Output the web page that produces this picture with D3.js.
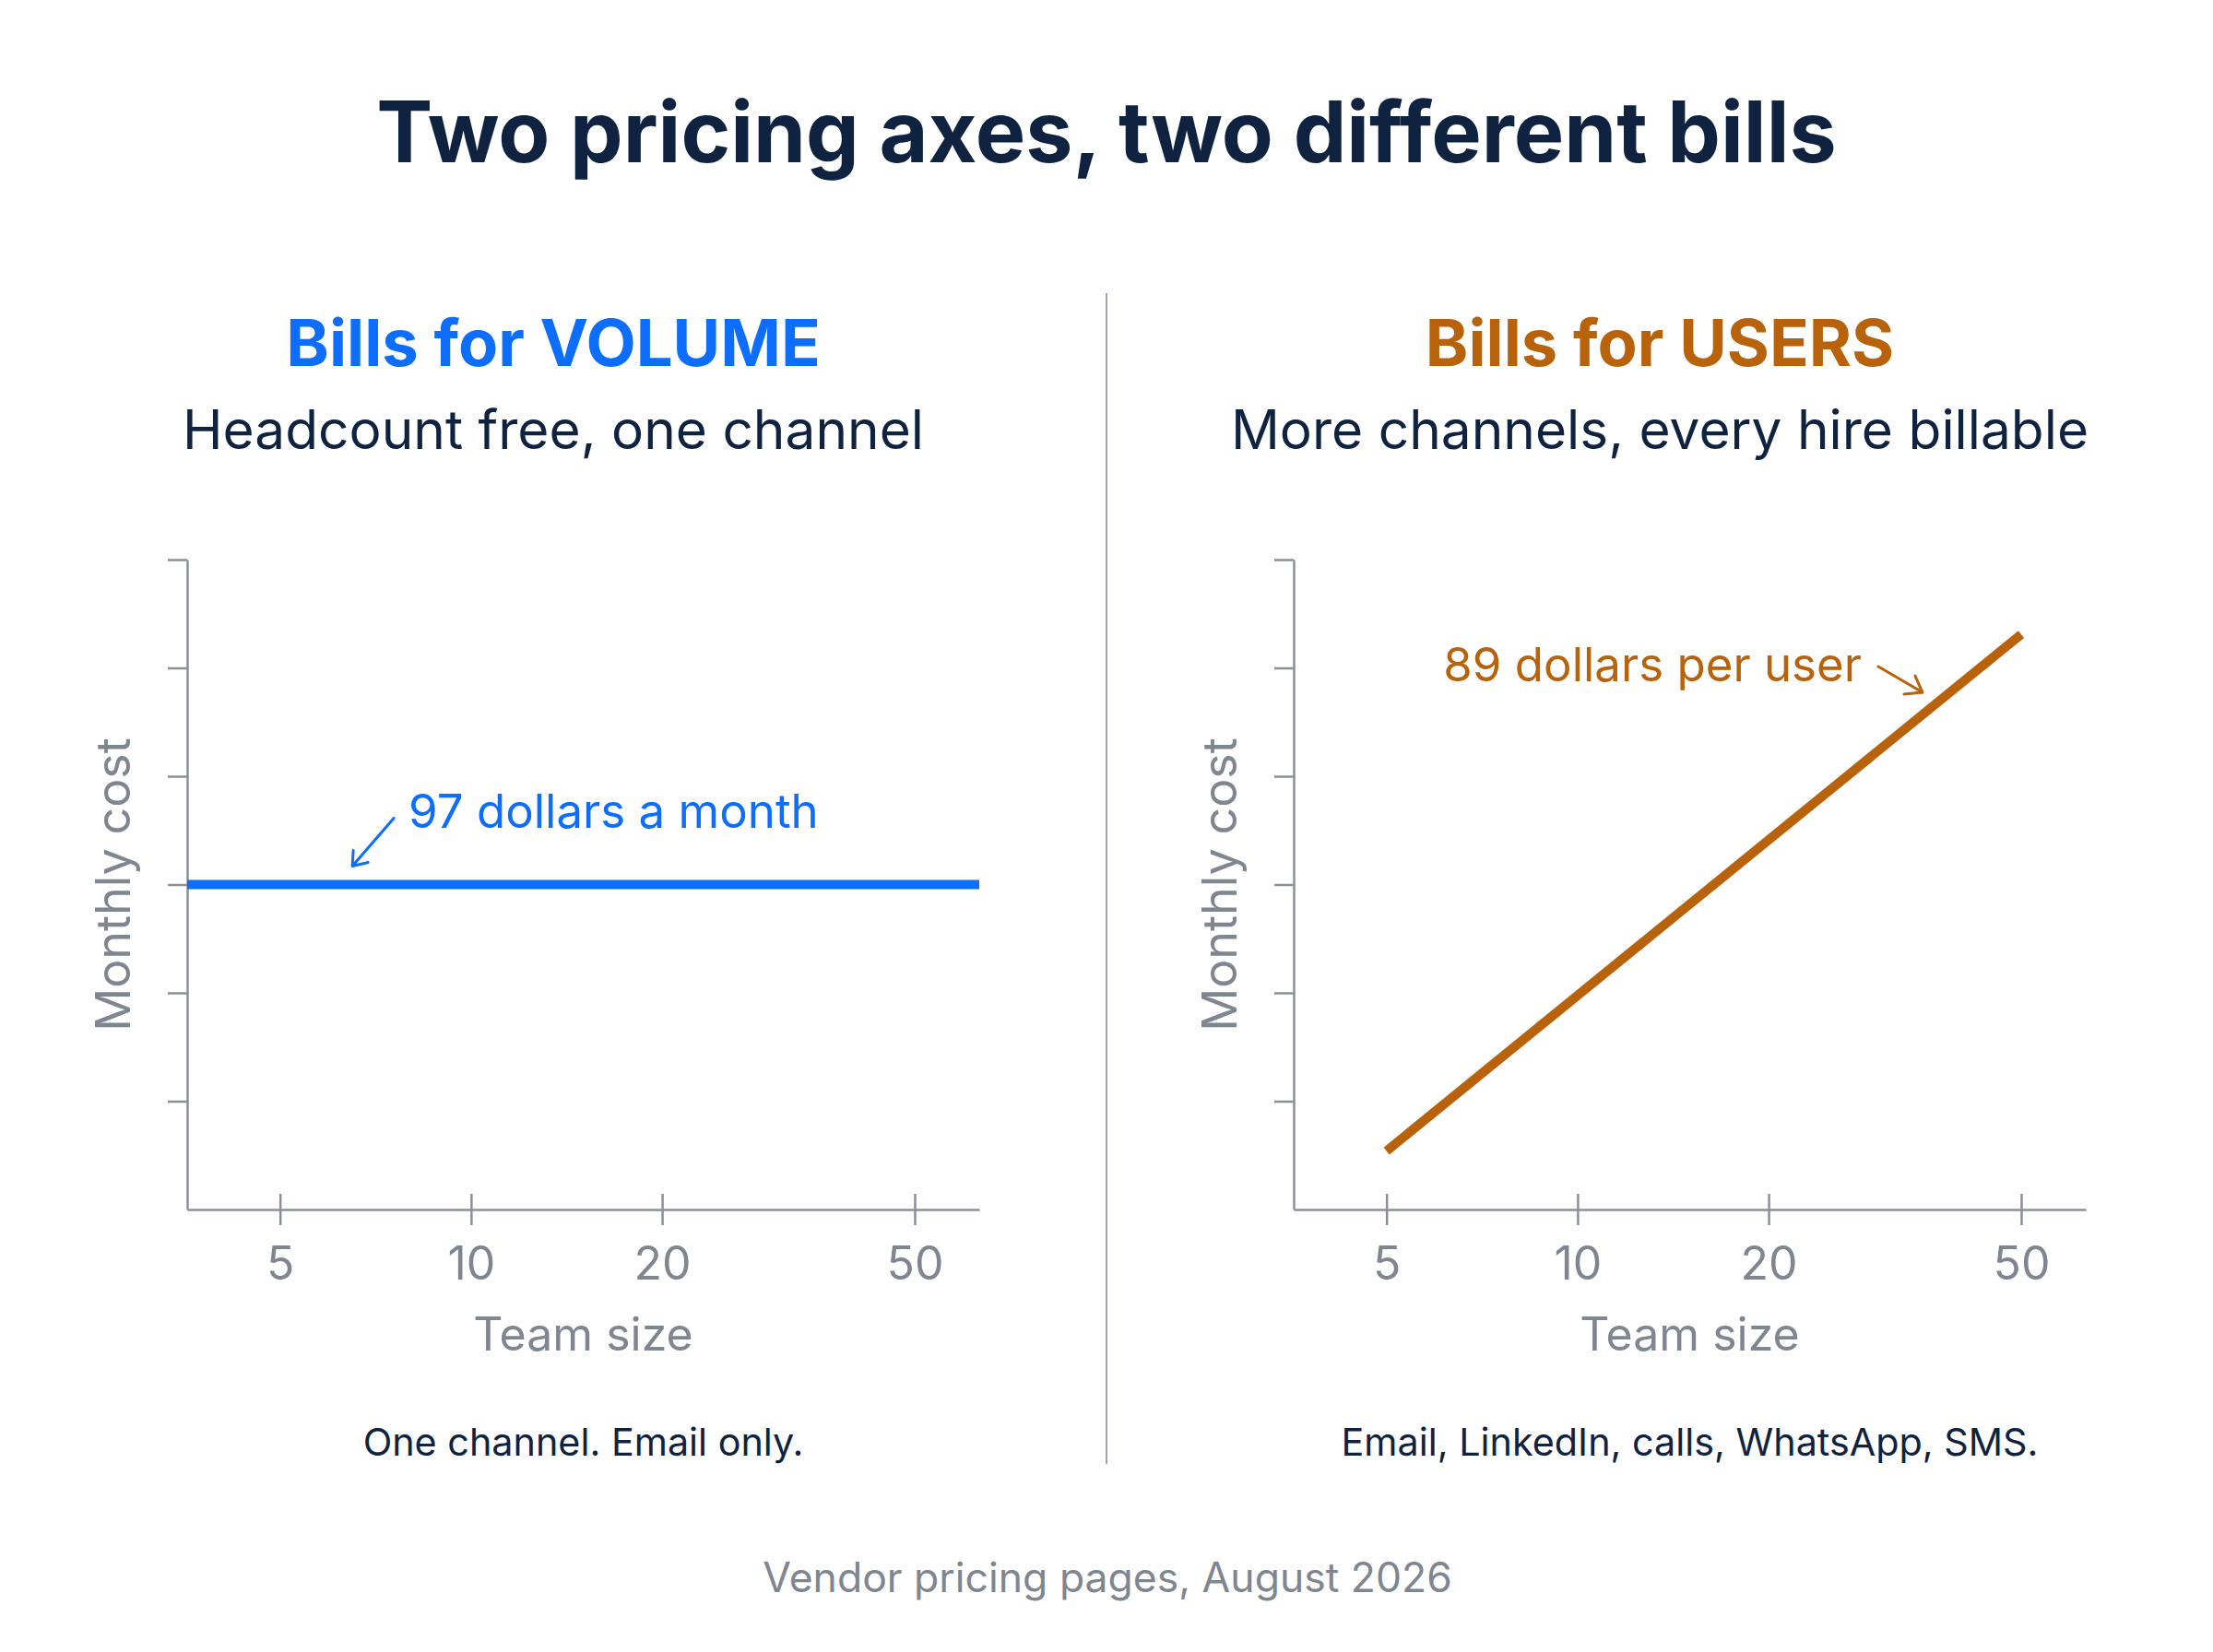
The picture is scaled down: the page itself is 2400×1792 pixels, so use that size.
<!DOCTYPE html>
<html>
<head>
<meta charset="utf-8">
<script src="https://cdn.jsdelivr.net/npm/d3@7"></script>
<style>
  html, body { margin: 0; padding: 0; background: #fff; }
  svg { display: block; font-family: Inter, "Noto Sans", sans-serif; }
</style>
</head>
<body>
<svg id="chart" width="2400" height="1792" viewBox="0 0 2400 1792"></svg>
<script>
// team size axis (log) and abstract monthly cost axis
var teamTicks = [5, 10, 20, 50];
var teamExtent = [3.57, 63.2];
var costTicks = [1, 2, 3, 4, 5, 6];
var costExtent = [0, 6];

// volume plan: flat fee across every team size
var volumeTeam = [3.57, 63.2];
var volumeCost = [3, 3];

// per-seat plan: grows with every hire
var usersTeam = [5, 50];
var usersCost = [0.54, 5.31];

var titleText = 'Two pricing axes, two different bills';
var sourceText = 'Vendor pricing pages, August 2026';

var navy = '#0f2340';
var grey = '#7f868f';
var axisGrey = '#8b9098';

var panels = [
  {
    offset: 0,
    color: '#0d6efd',
    title: 'Bills for VOLUME',
    subtitle: 'Headcount free, one channel',
    note: 'One channel. Email only.',
    label: '97 dollars a month',
    team: volumeTeam,
    cost: volumeCost
  },
  {
    offset: 1200,
    color: '#b8620b',
    title: 'Bills for USERS',
    subtitle: 'More channels, every hire billable',
    note: 'Email, LinkedIn, calls, WhatsApp, SMS.',
    label: '89 dollars per user',
    team: usersTeam,
    cost: usersCost
  }
];

var svg = d3.select('#chart');
svg.append('rect').attr('width', 2400).attr('height', 1792).attr('fill', '#fff');

svg.append('text')
  .attr('x', 1200).attr('y', 176)
  .attr('text-anchor', 'middle')
  .attr('font-size', 91.5).attr('font-weight', 700)
  .attr('fill', navy)
  .text(titleText);

svg.append('line')
  .attr('x1', 1200).attr('x2', 1200)
  .attr('y1', 318).attr('y2', 1588)
  .attr('stroke', '#a0a4aa').attr('stroke-width', 2);

svg.append('text')
  .attr('x', 1201).attr('y', 1727)
  .attr('text-anchor', 'middle')
  .attr('font-size', 44.5)
  .attr('fill', grey)
  .text(sourceText);

var plot = { left: 203, right: 1062, top: 607, bottom: 1312 };

var x = d3.scaleLog().domain(teamExtent).range([plot.left, plot.right]);
var y = d3.scaleLinear().domain(costExtent).range([plot.bottom, plot.top]);

var line = d3.line()
  .x(function (d) { return x(d[0]); })
  .y(function (d) { return y(d[1]); });

panels.forEach(function (p, i) {
  var g = svg.append('g').attr('transform', 'translate(' + p.offset + ',0)');
  var mid = (plot.left + plot.right) / 2;

  g.append('text')
    .attr('x', 600).attr('y', 397)
    .attr('text-anchor', 'middle')
    .attr('font-size', 70.5).attr('font-weight', 700)
    .attr('fill', p.color)
    .text(p.title);

  g.append('text')
    .attr('x', 600).attr('y', 487)
    .attr('text-anchor', 'middle')
    .attr('font-size', 58.6)
    .attr('fill', navy)
    .text(p.subtitle);

  // y axis: ticks only, no labels
  var yAxis = g.append('g')
    .attr('transform', 'translate(' + plot.left + ',0)')
    .call(d3.axisLeft(y).tickValues(costTicks).tickSize(21).tickSizeOuter(0).tickFormat(''));

  // x axis: ticks cross the baseline
  var xAxis = g.append('g')
    .attr('transform', 'translate(0,' + plot.bottom + ')')
    .call(d3.axisBottom(x).tickValues(teamTicks).tickSize(17).tickSizeOuter(0).tickFormat(d3.format('d')));
  xAxis.selectAll('.tick line').attr('y1', -17);
  xAxis.selectAll('.tick text')
    .attr('y', 76).attr('dy', 0)
    .attr('font-size', 50)
    .attr('font-family', 'Inter, sans-serif')
    .attr('fill', grey);

  [yAxis, xAxis].forEach(function (ax) {
    ax.select('.domain').attr('stroke', axisGrey).attr('stroke-width', 2.5);
    ax.selectAll('.tick line').attr('stroke', axisGrey).attr('stroke-width', 2.5);
  });

  g.append('text')
    .attr('transform', 'translate(141,' + (plot.top + plot.bottom) / 2 + ') rotate(-90)')
    .attr('text-anchor', 'middle')
    .attr('font-size', 52)
    .attr('fill', grey)
    .text('Monthly cost');

  g.append('text')
    .attr('x', mid).attr('y', 1465)
    .attr('text-anchor', 'middle')
    .attr('font-size', 50)
    .attr('fill', grey)
    .text('Team size');

  g.append('text')
    .attr('x', mid).attr('y', 1579)
    .attr('text-anchor', 'middle')
    .attr('font-size', 41.3)
    .attr('fill', navy)
    .text(p.note);

  var pts = p.team.map(function (t, k) { return [t, p.cost[k]]; });
  g.append('path')
    .datum(pts)
    .attr('d', line)
    .attr('fill', 'none')
    .attr('stroke', p.color)
    .attr('stroke-width', 10);

  // annotation arrow + label
  var tip, tail, head1, head2, lbl, anchor;
  if (i === 0) {
    var bx = x(6.5), by = y(3);
    tip = [bx, by - 20];
    tail = [tip[0] + 45, tip[1] - 52];
    head1 = [tip[0] + 1, tip[1] - 17];
    head2 = [tip[0] + 17, tip[1] - 4];
    lbl = [tip[0] + 61, by - 62];
    anchor = 'start';
  } else {
    var ux = x(50), uy = y(5.31);
    tip = [ux - 107, uy + 63];
    tail = [tip[0] - 48, tip[1] - 28];
    head1 = [tip[0] - 8, tip[1] - 18];
    head2 = [tip[0] - 20, tip[1] + 2];
    lbl = [tip[0] - 66, tip[1] - 12];
    anchor = 'end';
  }
  g.append('path')
    .attr('d', 'M' + tail + 'L' + tip + 'M' + head1 + 'L' + tip + 'L' + head2)
    .attr('fill', 'none')
    .attr('stroke', p.color)
    .attr('stroke-width', 3)
    .attr('stroke-linecap', 'round')
    .attr('stroke-linejoin', 'round');

  g.append('text')
    .attr('x', lbl[0]).attr('y', lbl[1])
    .attr('text-anchor', anchor)
    .attr('font-size', 51)
    .attr('fill', p.color)
    .text(p.label);
});
</script>
</body>
</html>
